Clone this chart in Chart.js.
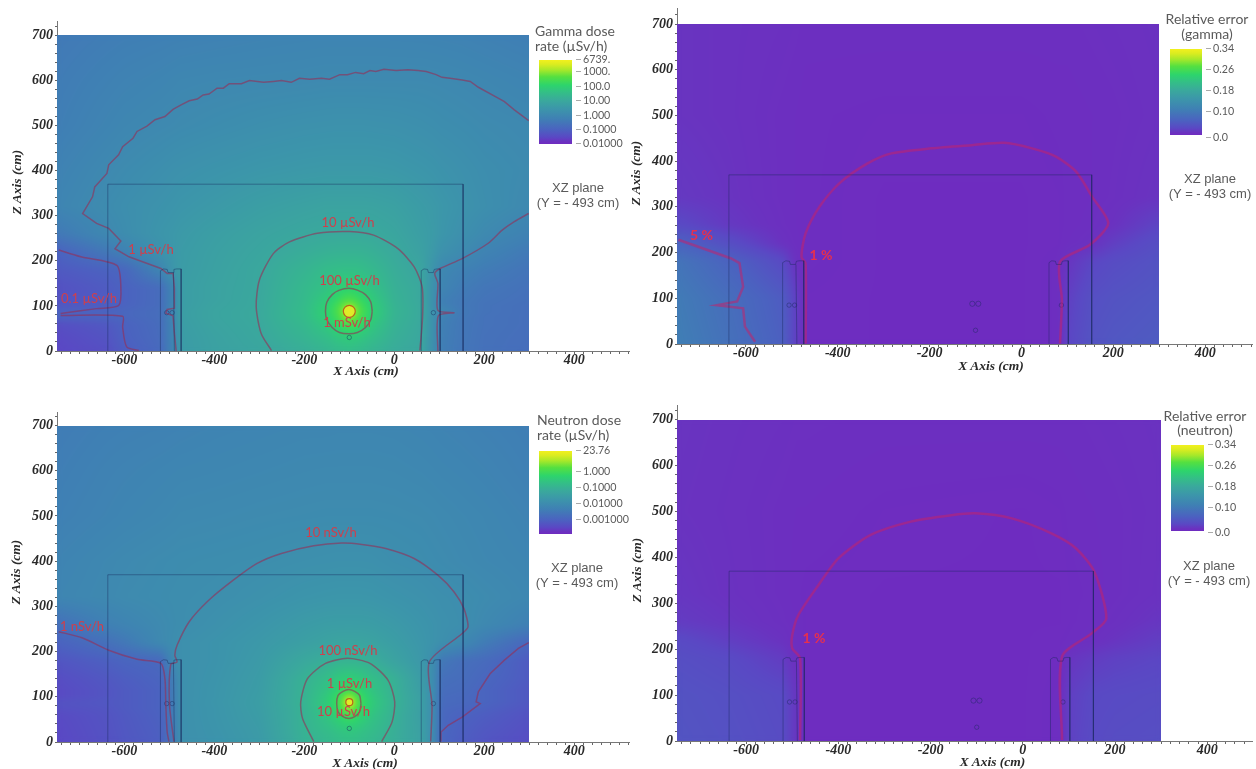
<!DOCTYPE html>
<html><head><meta charset="utf-8">
<style>
html,body{margin:0;padding:0;background:#fff;width:1256px;height:769px;overflow:hidden}
canvas{position:absolute;filter:blur(.5px)}
.t{position:absolute;white-space:nowrap;transform:translate(-50%,-50%);font-family:Lato,sans-serif;color:#5a5a5a;line-height:1}
.l{transform:translate(0,-50%)}
.ax{font:italic bold 13.5px "Liberation Serif",serif;color:#2a2a2a}
.c{color:#cf3f4c;font-size:13px;filter:blur(.4px)}
.p{color:#e6304e;font-size:14px;font-weight:700;filter:blur(.6px)}
.bar{position:absolute}
</style></head><body>
<canvas id="c0"></canvas><canvas id="c1"></canvas><canvas id="c2"></canvas><canvas id="c3"></canvas>
<script src="https://cdn.jsdelivr.net/npm/chart.js@4/dist/chart.umd.min.js"></script>
<script>
// ---------- colour bar stops (fraction, colour) ----------
const barStops=[[0,'#6f2bc0'],[.03,'#6a32c0'],[.08,'#5a48c4'],[.17,'#4b62c0'],[.3,'#3f80b4'],[.42,'#3c96aa'],[.52,'#3aa99c'],[.62,'#33c085'],[.7,'#2dd46c'],[.8,'#55e040'],[.88,'#a6e82a'],[.95,'#dcec20'],[1,'#f2f01e']];

// ---------- dose fields: log10 of the dose rate, rows from z=700 to z=0 ----------
const doseCols=[-750,-640,-600,-520,-490,-475,-400,-300,-200,-150,-125,-112,-100,-88,-75,-50,0,60,85,105,150,200,300];
const doseRows=[700,600,500,400,320,260,220,180,140,115,100,88,75,60,30,0];
const gammaLog=[
[-.42,-.33,-.3,-.26,-.24,-.23,-.2,-.16,-.13,-.12,-.12,-.12,-.12,-.12,-.12,-.12,-.13,-.14,-.15,-.16,-.18,-.22,-.3],
[-.35,-.22,-.17,-.1,-.06,-.04,-.01,.01,.03,.05,.05,.05,.05,.05,.05,.05,.05,.05,.04,.03,0,-.04,-.12],
[-.3,-.12,-.05,.03,.06,.08,.14,.22,.28,.3,.31,.31,.31,.31,.31,.3,.28,.23,.2,.17,.13,.08,.02],
[-.18,.03,.1,.22,.28,.3,.38,.47,.53,.55,.55,.55,.55,.55,.55,.55,.52,.44,.4,.35,.27,.18,.08],
[-.1,.12,.2,.34,.4,.44,.55,.7,.8,.85,.85,.85,.85,.85,.85,.84,.78,.62,.55,.48,.35,.22,.02],
[-.45,0,.15,.42,.5,.55,.7,.85,.98,1.02,1.03,1.03,1.03,1.03,1.03,1.02,.92,.7,.6,.45,.25,.05,-.2],
[-1,-.45,-.2,.3,.5,.6,.75,.92,1.12,1.22,1.25,1.25,1.25,1.25,1.25,1.2,1.03,.78,.55,.3,.08,-.15,-.42],
[-1.18,-1,-.9,-.1,.45,.62,.78,.98,1.3,1.5,1.55,1.58,1.58,1.58,1.55,1.42,1.13,.9,.4,-.02,-.2,-.35,-.55],
[-1.35,-1.15,-1,-.75,-.05,.65,.82,.98,1.42,1.65,1.9,1.97,2,1.97,1.9,1.65,1.2,1,.3,-.1,-.35,-.5,-.62],
[-1.3,-1.12,-1,-.75,-.03,.65,.82,1,1.45,1.85,2.2,2.4,2.5,2.4,2.2,1.85,1.25,1,.3,-.25,-.42,-.55,-.65],
[-1.25,-1.1,-.98,-.75,0,.65,.85,1,1.48,1.97,2.45,2.85,3.05,2.85,2.45,1.95,1.28,1.02,.3,-.22,-.45,-.58,-.68],
[-1,-.95,-.88,-.72,0,.68,.87,1.02,1.5,2,2.55,3,3.83,3,2.55,2,1.3,1.03,.3,.05,-.4,-.58,-.68],
[-1,-.95,-.9,-.72,0,.68,.87,1.02,1.48,1.97,2.45,2.85,3.05,2.85,2.45,1.95,1.28,1.02,.3,-.2,-.45,-.6,-.68],
[-1.4,-1.2,-1,-.75,-.03,.65,.85,1,1.42,1.8,2.2,2.4,2.5,2.4,2.2,1.8,1.25,1,.3,-.25,-.47,-.6,-.68],
[-1.5,-1.3,-1.03,-.78,-.03,.62,.8,.97,1.3,1.55,1.75,1.82,1.85,1.82,1.75,1.55,1.18,.97,.28,-.28,-.48,-.62,-.7],
[-1.55,-1.38,-1.12,-.82,-.05,.6,.78,.92,1.15,1.32,1.42,1.47,1.5,1.47,1.42,1.3,1.08,.95,.25,-.3,-.5,-.63,-.72]];
const neutronLog=[
[-2.5,-2.42,-2.4,-2.37,-2.35,-2.34,-2.3,-2.27,-2.24,-2.24,-2.23,-2.23,-2.23,-2.23,-2.23,-2.23,-2.24,-2.27,-2.29,-2.31,-2.34,-2.38,-2.45],
[-2.45,-2.35,-2.32,-2.27,-2.25,-2.24,-2.22,-2.19,-2.16,-2.15,-2.15,-2.15,-2.15,-2.15,-2.15,-2.15,-2.16,-2.19,-2.21,-2.23,-2.26,-2.3,-2.4],
[-2.4,-2.3,-2.26,-2.2,-2.17,-2.15,-2.13,-2.1,-2.08,-2.07,-2.07,-2.07,-2.07,-2.07,-2.07,-2.07,-2.08,-2.1,-2.12,-2.14,-2.18,-2.22,-2.32],
[-2.3,-2.18,-2.14,-2.08,-2.06,-2.05,-2.03,-2,-1.95,-1.93,-1.92,-1.92,-1.92,-1.92,-1.92,-1.93,-1.99,-2.03,-2.06,-2.08,-2.13,-2.18,-2.25],
[-2.25,-2.15,-2.1,-2.05,-2.03,-2.02,-1.99,-1.9,-1.8,-1.77,-1.76,-1.76,-1.76,-1.76,-1.76,-1.77,-1.83,-1.9,-1.94,-1.97,-2.01,-2.08,-2.2],
[-2.8,-2.4,-2.3,-2.12,-2.05,-2.02,-1.92,-1.78,-1.62,-1.56,-1.55,-1.55,-1.55,-1.55,-1.55,-1.57,-1.66,-1.8,-1.86,-1.92,-1.99,-2.15,-2.4],
[-3.1,-2.78,-2.6,-2.15,-2.02,-1.95,-1.85,-1.7,-1.5,-1.4,-1.36,-1.36,-1.35,-1.36,-1.36,-1.4,-1.55,-1.75,-1.85,-1.95,-2.15,-2.5,-3],
[-3.35,-3.15,-3.05,-2.95,-2.1,-1.95,-1.85,-1.65,-1.25,-1.1,-1.02,-1,-1,-1,-1.02,-1.1,-1.4,-1.7,-2,-2.6,-2.8,-2.9,-3.25],
[-3.5,-3.3,-3.2,-3.05,-2.4,-1.95,-1.82,-1.6,-1.03,-.75,-.5,-.42,-.4,-.42,-.5,-.72,-1.05,-1.6,-2,-2.8,-2.85,-3,-3.25],
[-3.55,-3.35,-3.25,-3.1,-2.45,-1.95,-1.8,-1.58,-1,-.6,-.3,-.1,0,-.1,-.3,-.6,-1.03,-1.55,-2,-2.85,-2.9,-3.05,-3.3],
[-3.55,-3.35,-3.25,-3.1,-2.45,-1.95,-1.8,-1.56,-1,-.5,-.05,.35,.7,.35,-.05,-.5,-1.02,-1.5,-2,-2.9,-2.95,-3.05,-3.3],
[-3.4,-3.3,-3.25,-3.1,-2.45,-1.95,-1.78,-1.55,-.97,-.45,0,.55,1.376,.55,0,-.45,-1,-1.5,-2,-2.9,-2.95,-3.05,-3.3],
[-3.45,-3.35,-3.25,-3.1,-2.45,-1.95,-1.8,-1.56,-1,-.5,-.05,.35,.7,.35,-.05,-.5,-1.02,-1.5,-2,-2.95,-3.02,-3.12,-3.35],
[-3.55,-3.38,-3.28,-3.12,-2.45,-1.95,-1.8,-1.58,-1,-.6,-.25,-.05,.1,-.05,-.25,-.6,-1.05,-1.52,-2,-2.97,-3.1,-3.2,-3.4],
[-3.58,-3.4,-3.3,-3.15,-2.5,-1.95,-1.82,-1.62,-1,-.75,-.6,-.52,-.5,-.52,-.6,-.75,-1.08,-1.48,-2,-3,-3.15,-3.28,-3.45],
[-3.6,-3.42,-3.32,-3.18,-2.5,-1.95,-1.85,-1.65,-1.05,-.9,-.8,-.76,-.75,-.76,-.8,-.9,-1.12,-1.45,-2,-3.02,-3.2,-3.35,-3.5]];

// ---------- relative error fields, rows from z=700 to z=0 ----------
const errCols=[-750,-640,-520,-490,-470,-300,0,80,100,150,200,300];
const errRows=[700,500,320,260,220,180,100,0];
const gammaErr=[
[.012,.01,.008,.007,.006,.006,.006,.006,.006,.007,.008,.01],
[.012,.01,.006,.005,.004,.003,.003,.004,.004,.005,.006,.009],
[.016,.012,.006,.005,.004,.002,.002,.003,.004,.005,.007,.012],
[.03,.016,.007,.005,.004,.002,.002,.003,.004,.006,.01,.025],
[.06,.035,.01,.006,.004,.002,.002,.003,.005,.009,.02,.035],
[.085,.06,.03,.008,.004,.002,.002,.004,.012,.025,.032,.04],
[.095,.075,.05,.02,.003,.002,.002,.004,.02,.035,.04,.045],
[.1,.08,.055,.02,.003,.002,.002,.004,.025,.04,.045,.05]];
const neutronErr=[
[.012,.01,.008,.007,.007,.006,.006,.006,.006,.007,.008,.01],
[.011,.009,.006,.005,.005,.003,.002,.003,.004,.005,.006,.009],
[.014,.01,.006,.004,.003,.002,.002,.002,.003,.004,.006,.01],
[.018,.013,.007,.005,.003,.002,.002,.002,.003,.005,.008,.014],
[.03,.02,.01,.005,.003,.002,.002,.003,.004,.007,.012,.02],
[.035,.03,.018,.006,.003,.002,.002,.003,.012,.018,.022,.026],
[.04,.036,.03,.012,.003,.002,.002,.004,.02,.028,.03,.032],
[.042,.038,.032,.012,.003,.002,.002,.004,.022,.03,.033,.035]];

// ---------- contours [x,z] ----------
const g1Upper=[[299,511],[267,535],[245,553],[227,563],[187,585],[169,598],[151,601],[124,605],[106,607],[93,613],[71,620],[53,622],[30,624],[4,622],[-23,625],[-41,620],[-54,622],[-68,615],[-86,618],[-104,613],[-121,613],[-144,603],[-162,605],[-188,603],[-211,605],[-229,596],[-251,600],[-269,598],[-291,596],[-322,600],[-340,593],[-367,593],[-380,583],[-394,583],[-412,570],[-425,568],[-438,559],[-456,555],[-474,546],[-492,536],[-510,520],[-532,513],[-550,499],[-572,487],[-581,472],[-604,453],[-613,435],[-635,413],[-639,394],[-666,364],[-671,342],[-693,305],[-662,283],[-635,272],[-608,244],[-621,227],[-590,209],[-519,183],[-505,172],[-492,172],[-489,140],[-489,95],[-505,92],[-508,84],[-492,78],[-489,40],[-485,0]];
const g1Right=[[299,305],[267,287],[240,268],[209,239],[151,205],[102,183],[90,172],[97,150],[97,90],[133,85],[98,78],[97,0]];
const g10=[[-273,1],[-296,39],[-307,98],[-300,157],[-269,216],[-233,242],[-171,261],[-99,265],[-46,257],[8,227],[44,187],[62,142],[63,76],[57,1]];
const g100=[[-49,88],[-52,70],[-64,52],[-82,41],[-101,38],[-122,41],[-138,52],[-150,70],[-153,88],[-150,108],[-138,125],[-122,135],[-101,139],[-82,135],[-64,125],[-52,108],[-49,88]];
const g01Upper=[[-746,224],[-697,209],[-617,190],[-608,142],[-613,101],[-662,94],[-742,83]];
const g01Lower=[[-742,79],[-604,77],[-604,53],[-595,9],[-568,1]];
const n1Left=[[-746,244],[-693,230],[-635,203],[-572,183],[-519,174],[-510,140],[-508,81],[-505,22],[-501,1]];
const n1Right=[[299,220],[276,207],[245,181],[213,151],[187,111],[182,89],[191,85],[151,55],[120,37],[104,22],[104,1]];
const n10=[[81,1],[84,81],[78,177],[151,240],[164,255],[155,295],[133,332],[97,369],[44,406],[-19,428],[-72,437],[-117,440],[-179,434],[-251,417],[-305,395],[-358,358],[-412,314],[-456,266],[-483,214],[-488,192],[-483,177],[-497,172],[-500,85],[-490,1]];
const n100=[[-179,1],[-204,52],[-208,89],[-193,140],[-153,174],[-104,185],[-54,174],[-14,137],[1,89],[-5,44],[-28,1]];
const n1u=[[-74,85],[-77,67],[-88,56],[-101,52],[-114,56],[-125,67],[-128,85],[-125,103],[-114,112],[-101,116],[-88,112],[-77,103],[-74,85]];
const e1g=[[-470,1],[-470,176],[-479,191],[-470,242],[-440,300],[-396,352],[-335,395],[-283,417],[-196,428],[-108,435],[-38,440],[23,428],[75,410],[119,377],[154,322],[189,264],[149,217],[84,180],[88,96],[84,1]];
const e5g=[[-747,228],[-693,209],[-632,187],[-614,177],[-606,125],[-619,93],[-663,85],[-606,78],[-602,38],[-580,5]];
const e1n=[[-483,2],[-483,180],[-500,202],[-500,231],[-487,274],[-443,340],[-400,398],[-330,449],[-243,478],[-155,492],[-103,496],[-24,485],[63,452],[115,420],[155,369],[181,267],[150,235],[85,184],[85,2]];

// ---------- geometry outlines ----------
const roomOutline=[[-637,0],[-637,370],[153,370],[153,0]];
const leftWall=[[-520,0],[-520,178],[-513,182],[-505,181],[-503,174],[-492,174],[-490,181],[-484,182],[-474,182],[-474,0]];
const leftInner=[[-491,174],[-489,0]];
const rightWall=[[60,0],[60,178],[66,182],[74,181],[76,174],[87,174],[89,181],[95,182],[102,182],[102,0]];
const siteMarks=[[-100,30],[87,85],[-506,85],[-494,85]];
const sourceMark=[[-100,88]];
const sourceTwin=[[-107,88],[-94,88]];

// ---------- text ----------
const xTickLabels=[-600,-400,-200,0,200,400];
const yTickLabels=[0,100,200,300,400,500,600,700];
const barTicksGamma=['6739.','1000.','100.0','10.00','1.000','0.1000','0.01000'];
const barTicksNeutron=['23.76','1.000','0.1000','0.01000','0.001000'];
const barTicksError=['0.34','0.26','0.18','0.10','0.0'];

const hex=h=>[parseInt(h.slice(1,3),16),parseInt(h.slice(3,5),16),parseInt(h.slice(5,7),16)];
const stopsRGB=barStops.map(s=>[s[0],hex(s[1])]);
function colorAt(f){f=Math.max(0,Math.min(1,f));let i=1;while(i<stopsRGB.length-1&&stopsRGB[i][0]<f)i++;
 const a=stopsRGB[i-1],b=stopsRGB[i],t=(f-a[0])/(b[0]-a[0]);return [0,1,2].map(k=>a[1][k]+(b[1][k]-a[1][k])*t);}
function seg(arr,v){let i=0;while(i<arr.length-2&&arr[i+1]<v)i++;return [i,Math.max(0,Math.min(1,(v-arr[i])/(arr[i+1]-arr[i])))];}

const fieldPlugin={id:'field',beforeDatasetsDraw(chart){
 const o=chart.options.plugins.field,xS=chart.scales.x,yS=chart.scales.y;
 const nodes=chart.data.datasets[0].data,cols=o.cols,rows=o.rows,nc=cols.length,nr=rows.length;
 const rowsAsc=rows.slice().reverse();
 const x0=Math.round(xS.getPixelForValue(cols[0])),x1=Math.round(xS.getPixelForValue(cols[nc-1]));
 const y0=Math.round(yS.getPixelForValue(rows[0])),y1=Math.round(yS.getPixelForValue(rows[nr-1]));
 const w=x1-x0,h=y1-y0,off=document.createElement('canvas');off.width=w;off.height=h;
 const c=off.getContext('2d'),img=c.createImageData(w,h);
 for(let py=0;py<h;py++){const z=yS.getValueForPixel(y0+py+.5);const [ra,tz]=seg(rowsAsc,z);const rHi=nr-1-(ra+1),rLo=nr-1-ra;
  for(let px=0;px<w;px++){const xv=xS.getValueForPixel(x0+px+.5);const [ci,tx]=seg(cols,xv);
   const v=(nodes[rLo*nc+ci].v*(1-tx)+nodes[rLo*nc+ci+1].v*tx)*(1-tz)+(nodes[rHi*nc+ci].v*(1-tx)+nodes[rHi*nc+ci+1].v*tx)*tz;
   const col=colorAt((v-o.min)/(o.max-o.min)),k=(py*w+px)*4;
   img.data[k]=col[0];img.data[k+1]=col[1];img.data[k+2]=col[2];img.data[k+3]=255;}}
 c.putImageData(img,0,0);
 const g=chart.ctx;g.drawImage(off,x0,y0);
 g.save();g.beginPath();g.rect(x0,y0,w,h);g.clip();g.filter='blur(2.5px)';g.drawImage(off,x0,y0);g.restore();
}};
Chart.register(fieldPlugin);

const pts=a=>a.map(p=>({x:p[0],y:p[1]}));
function line(a,color,width,tension){return {data:pts(a),showLine:true,borderColor:color,borderWidth:width,pointRadius:0,fill:false,tension:tension||0};}
const GEO='rgba(25,40,90,.42)';

function makePanel(id,p){
 const cv=document.getElementById(id);cv.style.left=p.left+'px';cv.style.top=p.top+'px';
 const nodes=[];p.rows.forEach((z,r)=>p.cols.forEach((x,c)=>nodes.push({x,y:z,v:p.grid[r][c]})));
 const ds=[{label:'field',data:nodes,pointRadius:0,showLine:false}];
 [roomOutline,leftWall,leftInner,rightWall].forEach(a=>ds.push(line(a,GEO,1)));
 p.contours.forEach(a=>ds.push(line(a,p.lineColor,p.lineWidth,a===g1Upper||a===e5g||a===n1Right?0:.25)));
 ds.push({data:pts(siteMarks),pointRadius:2.2,pointBorderColor:GEO,pointBackgroundColor:'rgba(0,0,0,0)',pointBorderWidth:1,showLine:false});
 if(p.source)ds.push({data:pts(sourceMark),pointRadius:p.source,pointBorderColor:'#b8641c',pointBackgroundColor:'rgba(232,236,40,.85)',pointBorderWidth:1.2,showLine:false});
 else ds.push({data:pts(sourceTwin),pointRadius:2.6,pointBorderColor:GEO,pointBackgroundColor:'rgba(0,0,0,0)',pointBorderWidth:1,showLine:false});
 cv.width=p.w;cv.height=p.h;
 new Chart(cv,{type:'scatter',data:{datasets:ds},options:{
  responsive:false,animation:false,events:[],
  layout:{padding:{top:p.areaTop,right:p.w-p.areaRight,bottom:0,left:0}},
  plugins:{legend:{display:false},tooltip:{enabled:false},field:{cols:p.cols,rows:p.rows,min:p.min,max:p.max}},
  scales:{
   x:{type:'linear',min:-750,max:p.xMax,
    afterFit(s){s.height=p.h-p.areaBottom;s.paddingLeft=0;s.paddingRight=0;},
    border:{color:'#777',width:1},
    grid:{drawOnChartArea:false,color:'#666',tickLength:3},
    ticks:{stepSize:20,autoSkip:false,includeBounds:false,maxRotation:0,padding:-2,color:'#2a2a2a',
     font:{family:'"Liberation Serif",serif',size:14,style:'italic',weight:'bold'},
     callback:v=>xTickLabels.includes(v)?String(v):''}},
   y:{type:'linear',min:0,max:p.yMax,
    afterFit(s){s.width=p.areaLeft;s.paddingTop=0;s.paddingBottom=0;},
    border:{color:'#777',width:1},
    grid:{drawOnChartArea:false,color:'#666',tickLength:2},
    ticks:{stepSize:20,autoSkip:false,includeBounds:false,padding:2,color:'#2a2a2a',
     font:{family:'"Liberation Serif",serif',size:14,style:'italic',weight:'bold'},
     callback:v=>yTickLabels.includes(v)?String(v):''},
    title:{display:false}}
  }}});
}

const panels=[
 {left:0,top:0,w:645,h:385,areaLeft:57,areaRight:629,areaTop:21,areaBottom:351,xMax:522,yMax:732,
  cols:doseCols,rows:doseRows,grid:gammaLog,min:-2,max:3.83,source:6,
  contours:[g1Upper,g1Right,g10,g100,g01Upper,g01Lower],lineColor:'rgba(150,45,85,.6)',lineWidth:1.5},
 {left:630,top:0,w:645,h:385,areaLeft:47,areaRight:622,areaTop:8,areaBottom:344,xMax:502,yMax:735,
  cols:errCols,rows:errRows,grid:gammaErr,min:0,max:.34,
  contours:[e1g,e5g],lineColor:'rgba(195,35,105,.55)',lineWidth:2.5},
 {left:0,top:385,w:645,h:384,areaLeft:57,areaRight:629,areaTop:27,areaBottom:357,xMax:522,yMax:730,
  cols:doseCols,rows:doseRows,grid:neutronLog,min:-4.03,max:1.376,source:3.5,
  contours:[n1Left,n1Right,n10,n100,n1u],lineColor:'rgba(150,45,85,.6)',lineWidth:1.5},
 {left:630,top:385,w:645,h:384,areaLeft:47,areaRight:622,areaTop:20,areaBottom:356,xMax:497,yMax:732,
  cols:errCols,rows:errRows,grid:neutronErr,min:0,max:.34,
  contours:[e1n],lineColor:'rgba(195,35,105,.55)',lineWidth:2.5}];
panels.forEach((p,i)=>makePanel('c'+i,p));

// ---------- text overlays and colour bars ----------
function txt(s,x,y,cls,extra){const d=document.createElement('div');d.className='t '+(cls||'');d.textContent=s;d.style.left=x+'px';d.style.top=y+'px';if(extra)d.style.cssText+=extra;document.body.appendChild(d);return d;}
const gradCss='linear-gradient(to top,'+barStops.map(s=>s[1]+' '+(s[0]*100)+'%').join(',')+')';
function colorBar(x0,x1,y0,y1,labels,ys,lx){
 const b=document.createElement('div');b.className='bar';b.style.cssText=`left:${x0}px;top:${y0}px;width:${x1-x0}px;height:${y1-y0}px;background:${gradCss};filter:blur(.4px)`;document.body.appendChild(b);
 labels.forEach((s,i)=>{txt(s,lx,ys[i],'l','font-size:10.7px;');
  const m=document.createElement('div');m.className='bar';m.style.cssText=`left:${lx-7}px;top:${ys[i]}px;width:5px;height:1px;background:#aaa`;document.body.appendChild(m);});
}
const TS='font-size:14px;', XZ='font-family:"Liberation Sans",sans-serif;font-size:13px;';
txt('Gamma dose',535,31,'l',TS);txt('rate (µSv/h)',535,46,'l',TS);
colorBar(539,572,60,144,barTicksGamma,[59,71,85.7,100,114.6,129,143],583);
txt('XZ plane',578,187,'',XZ);txt('(Y = - 493 cm)',578,202,'',XZ);
txt('Relative error',1207,19,'',TS);txt('(gamma)',1207,34,'',TS);
colorBar(1170,1202,49,135,barTicksError,[48,69,90,111,136.5],1213);
txt('XZ plane',1210,178,'',XZ);txt('(Y = - 493 cm)',1210,193,'',XZ);
txt('Neutron dose',537,420,'l',TS);txt('rate (µSv/h)',537,435,'l',TS);
colorBar(539,572,451,534,barTicksNeutron,[450,471,486.7,502.5,518.5],583);
txt('XZ plane',577,567,'',XZ);txt('(Y = - 493 cm)',577,582,'',XZ);
txt('Relative error',1205,416,'',TS);txt('(neutron)',1205,430,'',TS);
colorBar(1171,1204,445,531,barTicksError,[444,465,486,507,532],1215);
txt('XZ plane',1209,565,'',XZ);txt('(Y = - 493 cm)',1209,580,'',XZ);
// axis titles: [x title x, y, z title x, y]
[[366,371,17,182],[991,366,636,173],[365,763,16,572],[992.5,762,637,570]].forEach(a=>{
 txt('X Axis (cm)',a[0],a[1],'ax');txt('Z Axis (cm)',a[2],a[3],'ax','transform:translate(-50%,-50%) rotate(-90deg);');});
// contour labels
const contourLabels=[['10 µSv/h',348,222],['1 µSv/h',151,249],['100 µSv/h',349.5,280],['1 mSv/h',347,322],['0.1 µSv/h',89,298],
 ['10 nSv/h',331,532],['1 nSv/h',82,626],['100 nSv/h',348,650],['1 µSv/h',349.5,683],['10 µSv/h',343.5,711]];
const errorLabels=[['5 %',701.5,235],['1 %',821,255],['1 %',814,638]];
contourLabels.forEach(l=>txt(l[0],l[1],l[2],'c'));
errorLabels.forEach(l=>txt(l[0],l[1],l[2],'p'));
</script>
</body></html>
